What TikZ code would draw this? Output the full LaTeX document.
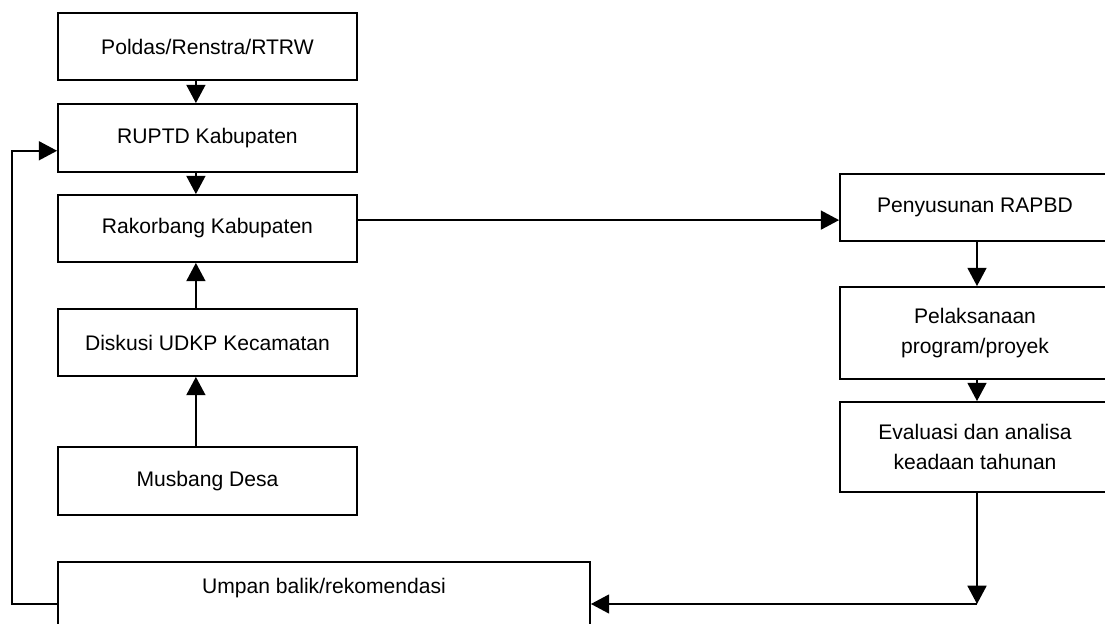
\documentclass[tikz,border=0pt]{standalone}
\usepackage{fontspec}
\setmainfont{Liberation Sans}
\usetikzlibrary{arrows.meta,positioning}
\tikzset{
  flow/.style={-{Triangle[length=13pt,width=13.5pt]},line width=1.3pt},
  stagebox/.style={draw=black,line width=1.3pt,fill=white,inner sep=4pt,align=center,
                   font=\fontsize{15}{21.5}\selectfont},
  leftbox/.style={stagebox,minimum width=7.475cm,minimum height=1.675cm},
  rightbox/.style={stagebox,minimum width=6.75cm},
}

\begin{document}
\begin{tikzpicture}[x=1cm,y=1cm]
  \path[use as bounding box,fill=white] (0,0) rectangle (27.625,15.6);
  \clip (0,0) rectangle (27.625,15.6);

  % left column
  \node[leftbox] (pol) at (5.1875,14.4375) {Poldas/Renstra/RTRW};
  \node[leftbox,minimum height=1.7cm] (rup) at (5.1875,12.15) {RUPTD Kabupaten};
  \node[leftbox] (rak) at (5.1875,9.8875) {Rakorbang Kabupaten};
  \node[leftbox] (dis) at (5.1875,7.0375) {Diskusi UDKP Kecamatan};
  \node[leftbox,minimum height=1.7cm] (mus) at (5.1875,3.575) {Musbang Desa};

  % right column (runs off the right edge)
  \node[rightbox,minimum height=1.675cm] (rap) at (24.375,10.4125) {Penyusunan RAPBD};
  \node[rightbox,minimum height=2.3cm] (pel) at (24.375,7.275) {Pelaksanaan\\program/proyek};
  \node[rightbox,minimum height=2.25cm] (eva) at (24.375,4.425) {Evaluasi dan analisa\\keadaan tahunan};

  % feedback box, runs off the bottom edge
  \node[stagebox,minimum width=13.3cm,minimum height=2.1cm] (ump) at (8.1,0.5) {};
  \node[font=\fontsize{15}{18}\selectfont,anchor=north,inner sep=5pt] (umptxt)
    at ([yshift=-2.4mm]ump.north) {Umpan balik/rekomendasi};

  % vertical links, left
  \draw[flow] ([xshift=-2.9mm]pol.south) -- ([xshift=-2.9mm]rup.north);
  \draw[flow] ([xshift=-2.9mm]rup.south) -- ([xshift=-2.9mm]rak.north);
  \draw[flow] ([xshift=-2.9mm]dis.north) -- ([xshift=-2.9mm]rak.south);
  \draw[flow] ([xshift=-2.9mm]mus.north) -- ([xshift=-2.9mm]dis.south);

  % across to the budget
  \draw[flow] ([yshift=2.1mm]rak.east) -- ([yshift=2.1mm]rak.east -| rap.west);

  % vertical links, right
  \draw[flow] ([xshift=0.5mm]rap.south) -- ([xshift=0.5mm]pel.north);
  \draw[flow] ([xshift=0.5mm]pel.south) -- ([xshift=0.5mm]eva.north);

  % back to the feedback box
  \coordinate (evaout) at ([xshift=0.5mm]eva.south);
  \coordinate (turn) at (evaout |- ump.east);
  \draw[flow] (evaout) -- (turn);
  \draw[flow] (turn) -- (ump.east);

  % feedback loop to RUPTD
  \coordinate (rupin) at ([yshift=-3.2mm]rup.west);
  \draw[flow] (ump.west) -- ++(-1.125,0) |- (rupin);
\end{tikzpicture}
\end{document}
